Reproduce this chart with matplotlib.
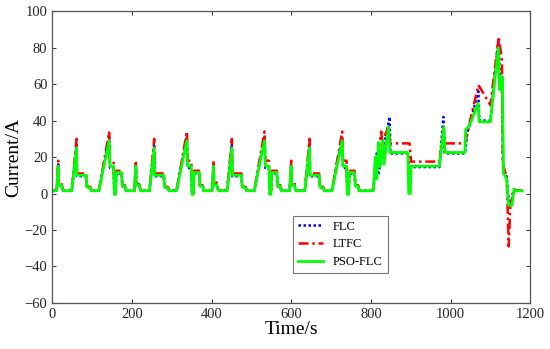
import numpy as np
import matplotlib
matplotlib.use("Agg")
import matplotlib.pyplot as plt

plt.rcParams['font.family'] = ['Liberation Serif', 'DejaVu Serif']
plt.rcParams['mathtext.fontset'] = 'stix'

# ---- Urban (ECE) cycle knots, relative time (s), repeated 4 times ----
ece_t = [0, 11, 15, 16, 23, 26, 28, 49, 61, 62, 85, 87, 96, 98, 117, 143, 145,
         154, 156, 159, 161, 174, 176, 183, 185]
flc_ece = [1.5, 1.5, 16, 5, 5, 2.5, 1.5, 1.5, 27, 9.5, 9.5, 3.5, 3, 1.5, 1.5, 31, 14,
           14, 0, 0, 11, 11, 4, 4, 1.5]
ltfc_ece = [1.5, 1.5, 18, 6, 6, 2.5, 1.5, 1.5, 30, 11, 11, 4, 3.5, 1.5, 1.5, 34, 18,
            18, 1, 1, 12.5, 12.5, 4.5, 4.5, 1.5]
pso_ece = [1.5, 1.5, 15, 4.5, 4.5, 2, 1.5, 1.5, 25, 10, 10, 3.5, 3, 1.5, 1.5, 29, 15,
           15, -0.5, -0.5, 11.5, 11.5, 4, 4, 1.5]
cycle_starts = [0, 195, 390, 585]

# ---- Extra-urban part, absolute time (s) ----
flc_eudc_t = [780, 806, 815, 818, 847, 849, 893, 897, 972, 982, 985, 1036, 1042, 1070,
              1072, 1100, 1120, 1124, 1129, 1132, 1141, 1144, 1147, 1154, 1158, 1180]
flc_eudc_v = [1.5, 1.5, 22, 10, 42, 22, 22, 14.5, 14.5, 42, 22, 22, 33, 56,
              40, 40, 84, 64, 64, 14, 9, 0, -4, -4, 2, 1.5]
ltfc_eudc_t = [780, 805, 826, 828, 845, 848, 897, 901, 972, 983, 986, 1036, 1070, 1100,
               1121, 1129, 1131, 1141, 1146, 1150, 1158, 1180]
ltfc_eudc_v = [1.5, 1.5, 34, 28, 37, 27.5, 27.5, 17.5, 17.5, 35, 27.5, 27.5, 59.5, 48.5,
               86, 73, 16.5, 9, -29, -7, 2, 1.5]
pso_eudc_t = [780, 806, 811, 815, 819, 823, 830, 833, 844, 848, 893, 895, 899, 901, 972,
              983, 986, 1036, 1038, 1048, 1069, 1072, 1100, 1120, 1123, 1128, 1130, 1133,
              1141, 1144, 1146, 1154, 1160, 1163, 1180]
pso_eudc_v = [1.5, 1.5, 20, 8, 28, 14.7, 29, 16, 36.6, 22.5, 22.5, 0, 0, 15, 15,
              36.6, 22.5, 22.5, 35, 37.5, 49.4, 39.3, 39.3, 80, 57, 57, 64, 11,
              8, -1.7, -6.5, -6.5, 2.5, 1.5, 1.5]

labels = ['FLC', 'LTFC', 'PSO-FLC']
x_ticks = [0, 200, 400, 600, 800, 1000, 1200]
y_ticks = [-60, -40, -20, 0, 20, 40, 60, 80, 100]


def build(ece_v, eudc_t, eudc_v):
    t, v = [], []
    for s in cycle_starts:
        t += [s + x for x in ece_t]
        v += list(ece_v)
    t += eudc_t
    v += eudc_v
    return np.array(t, float), np.array(v, float)


series = [build(flc_ece, flc_eudc_t, flc_eudc_v),
          build(ltfc_ece, ltfc_eudc_t, ltfc_eudc_v),
          build(pso_ece, pso_eudc_t, pso_eudc_v)]
styles = [dict(color='#0000FF', ls=(0, (1, 1)), lw=1.8),
          dict(color='#FF0000', ls=(0, (4, 1.5, 1, 1.5)), lw=1.8),
          dict(color='#00FF00', ls='-', lw=2.0)]

fig = plt.figure(figsize=(5.5, 3.49), dpi=100)
ax = fig.add_axes([0.095, 0.132, 0.869, 0.836])
for (t, v), st, lab in zip(series, styles, labels):
    ax.plot(t, v, label=lab, **st)

ax.set_xlim(0, 1200)
ax.set_ylim(-60, 100)
ax.set_xticks(x_ticks)
ax.set_yticks(y_ticks)
ax.tick_params(direction='in', length=3, top=True, right=True, labelsize=10.5,
               colors='#404040', labelcolor='#262626', width=0.8)
for sp in ax.spines.values():
    sp.set_color('#555555')
    sp.set_linewidth(0.9)
ax.set_xlabel('Time/s', fontsize=14, labelpad=0)
ax.set_ylabel('Current/A', fontsize=14, labelpad=2)

leg = ax.legend(loc='lower left', bbox_to_anchor=(0.503, 0.103), borderaxespad=0,
                fontsize=9, frameon=True, fancybox=False, handlelength=2.0,
                labelspacing=0.45, borderpad=0.4)
leg.get_frame().set_edgecolor('#555555')
leg.get_frame().set_linewidth(0.8)

fig.savefig('out.png', dpi=100)
